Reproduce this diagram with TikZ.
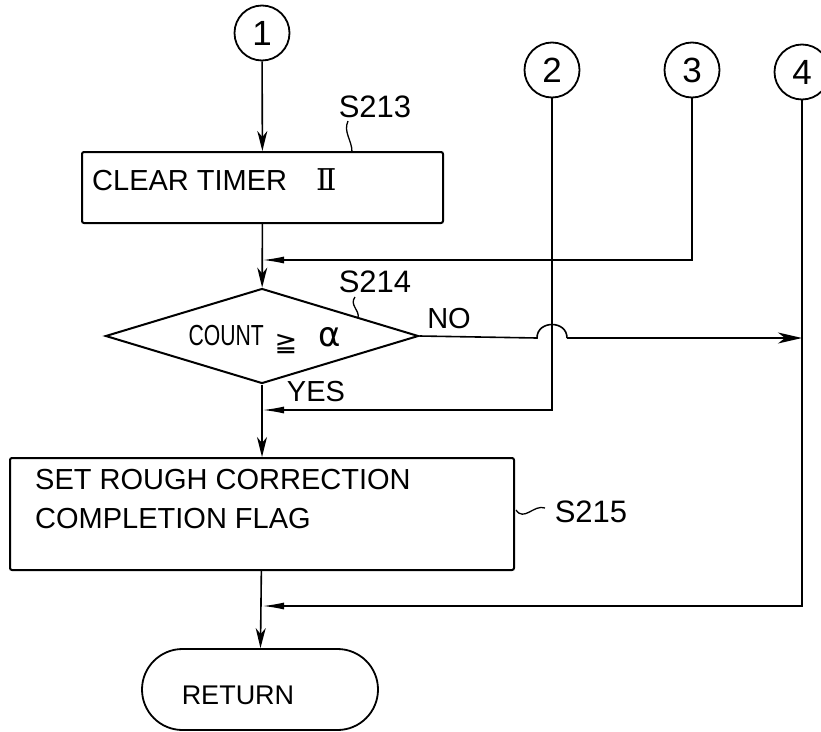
\documentclass[tikz,border=0pt]{standalone}
\usepackage{fontspec}
\setmainfont{Liberation Sans}
\newfontfamily\djfont{DejaVu Sans}
\newfontfamily\djsfont{DejaVu Serif}
\usetikzlibrary{arrows.meta,shapes.geometric,shapes.misc}
\begin{document}
\begin{tikzpicture}[x=1pt,y=-1pt,
  conn/.style={circle,draw,line width=1.8pt,minimum size=55pt,inner sep=0pt,font=\fontsize{35}{40}\selectfont},
  procbox/.style={draw,line width=2pt,rounded corners=2pt,inner sep=0pt},
  decbox/.style={diamond,draw,line width=2pt,inner sep=0pt},
  termbox/.style={rounded rectangle,draw,line width=1.8pt,inner sep=0pt},
  txt/.style={inner sep=0pt,font=\fontsize{29}{39}\selectfont},
  lab/.style={inner sep=0pt,font=\fontsize{31}{36}\selectfont},
  flow/.style={line width=1.6pt},
  down/.style={flow,-{Stealth[length=20pt,width=10pt,inset=6pt]}},
  side/.style={flow,-{Latex[length=22pt,width=7pt]}},
  lead/.style={line width=1.3pt}
]
\useasboundingbox (0,0) rectangle (821,731);

% connectors circles
\node[conn] (c1) at (262,33) {1};
\node[conn] (c2) at (552,70) {2};
\node[conn] (c3) at (692,70) {3};
\node[conn] (c4) at (802,72) {4};

% boxes
\node[procbox,minimum width=361pt,minimum height=71pt] (b1) at (262.5,187.5) {};
\node[txt,anchor=base west] (t1) at (92,190) {CLEAR TIMER};
\node[inner sep=0pt,anchor=base west,font=\djsfont\fontsize{30}{34}\selectfont] (t1b) at (316,190) {Ⅱ};

\node[decbox,minimum width=313pt,minimum height=95pt] (d) at (262,336) {};
\node[txt,anchor=base east] (t2) at (264,345) {\scalebox{0.73}[1]{COUNT}};
\node[inner sep=0pt,font=\djfont\fontsize{27}{30}\selectfont] (t2b) at (286,344) {≧};
\node[inner sep=0pt,font=\djfont\fontsize{34}{40}\selectfont] (t2c) at (330,337) {α};

\node[procbox,minimum width=504pt,minimum height=112pt] (b2) at (262,514) {};
\node[txt,anchor=north west,align=left] (t3) at (35,469) {SET ROUGH CORRECTION\\COMPLETION FLAG};

\node[termbox,minimum width=236pt,minimum height=81pt] (r) at (260,689.5) {};
\node[txt,font=\fontsize{27}{32}\selectfont] (t4) at (238,695) {RETURN};

% labels
\node[lab] (s213) at (375,107) {S213};
\node[lab] (s214) at (375,282) {S214};
\node[lab] (s215) at (591,512) {S215};
\node[txt] (yes) at (316,392) {YES};
\node[txt] (no) at (449,319) {NO};

% junction coordinates
\coordinate (m3) at (262,260);
\coordinate (m2) at (262,410);
\coordinate (m4) at (262,606);
\coordinate (n4) at (802,338);
\coordinate (h1) at (537,338);
\coordinate (h2) at (567,338);

% flow lines
\draw[down] (c1) -- (b1);
\draw[down] (b1) -- (d);
\draw[side] (c3) |- (m3);
\draw[flow] (d.east) -- (h1) .. controls (537,320) and (567,320) .. (h2);
\draw[flow,-{Stealth[length=24pt,width=11pt,inset=7pt]}] (h2) -- (n4);
\draw[side] (c2) |- (m2);
\draw[down] (d) -- (b2);
\draw[side] (c4) |- (m4);
\draw[down] (b2) -- (r);

% leaders
\draw[lead] (348,121) .. controls (343,132) and (352,140) .. (352,152);
\draw[lead] (355,297) .. controls (349,305) and (360,310) .. (358,318);
\draw[lead] (516,510) .. controls (524,522) and (534,504) .. (545,508);
\end{tikzpicture}
\end{document}
